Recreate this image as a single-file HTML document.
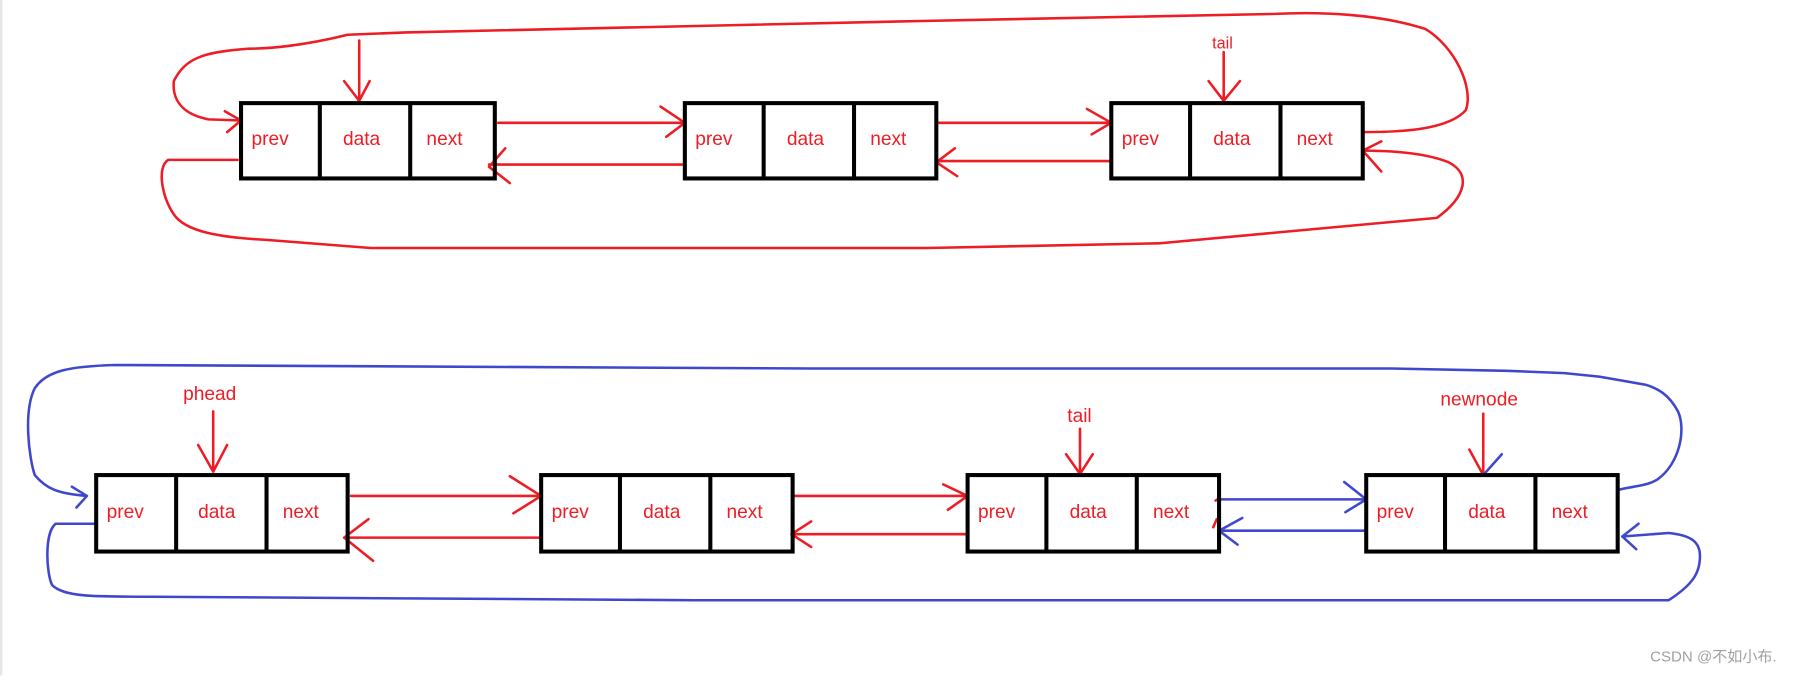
<!DOCTYPE html>
<html><head><meta charset="utf-8"><style>
html,body{margin:0;padding:0;background:#fff;width:1817px;height:676px;overflow:hidden}
svg{display:block}
text{font-family:"Liberation Sans","Noto Sans CJK SC",sans-serif}
</style></head><body>
<svg width="1817" height="676" viewBox="0 0 1568 583.4" preserveAspectRatio="none">
<rect x="0" y="0" width="2" height="583" fill="#e6e6e6"/>
<g fill="none" stroke-linecap="round" stroke-linejoin="round">
<!-- top loops red -->
<g stroke="#ee1c24" stroke-width="2.2">
<path d="M1176,114 C1210,114 1250,112 1265,95 C1272,75 1255,40 1230,25 C1190,12 1140,10 1100,12 L800,18 L350,28 L300,30 C260,40 230,42 215,42 C175,45 160,50 150,70 C148,92 165,100 180,103 L208,104"/>
<path d="M194,96 L208,104 L196,114"/>
<path d="M205,138 L145,138 C135,145 140,170 150,185 C160,200 190,205 230,207 L320,214 L800,214 L1000,210 L1240,188 C1265,170 1270,150 1250,140 C1230,132 1200,130 1176,130"/>
<path d="M1192,122 L1176,130 L1192,148"/>
<!-- connectors -->
<path d="M430,106 L591,106 M570,92 L591,106 L575,118"/>
<path d="M591,142 L422,142 M436,128 L422,144 L440,158"/>
<path d="M810,106 L959,106 M938,94 L959,106 L942,116"/>
<path d="M959,139 L808,139 M824,128 L808,140 L826,152"/>
<path d="M310,35 L310,87 M297,70 L310,87 L319,70"/>
<path d="M1056,45 L1056,87 M1043,70 L1056,87 L1070,70"/>
<!-- bottom red connectors -->
<path d="M303,428 L467,428 M440,411 L467,428 L443,443"/>
<path d="M467,464 L297,464 M318,448 L297,464 L322,484"/>
<path d="M686,428 L835,428 M814,418 L835,428 L818,440"/>
<path d="M835,461 L683,461 M700,450 L683,461 L700,472"/>
<path d="M184,355 L184,407 M171,384 L184,407 L196,384"/>
<path d="M932,370 L932,409 M920,392 L932,409 L943,392"/>
<path d="M1280,357 L1280,410 M1268,388 L1280,410"/>
<path d="M1052,430 L1049,432 M1050,448 L1047,455"/>
</g>
<!-- blue -->
<g stroke="#3f48cc" stroke-width="2.2">
<path d="M1052,431 L1179,431 M1160,416 L1179,431 L1161,442"/>
<path d="M1179,458 L1052,458 M1072,447 L1052,458 L1068,470"/>
<path d="M1280,410 L1296,392"/>
<path d="M1396,423 C1405,420 1420,420 1430,414 C1450,400 1455,370 1448,355 C1440,340 1430,335 1420,332 L1380,325 L1350,322 L1300,320 L1200,318 L1100,318 L700,318 L100,315 C60,316 40,320 30,335 C20,355 25,395 30,410 C40,422 50,426 75,428"/>
<path d="M62,420 L75,428 L66,438"/>
<path d="M83,452 L48,452 C38,460 40,495 45,505 C55,515 80,515 130,515 L600,518 L1440,518 C1460,505 1467,495 1467,480 C1467,468 1460,462 1440,460 L1400,463"/>
<path d="M1414,452 L1400,463 L1412,474"/>
</g>
</g>
<!-- boxes -->
<g fill="none" stroke="#000" stroke-width="3.5">
<rect x="208" y="89" width="219" height="65"/><path d="M276,89V154M354,89V154"/>
<rect x="591" y="89" width="217" height="65"/><path d="M659,89V154M737,89V154"/>
<rect x="959" y="89" width="217" height="65"/><path d="M1027,89V154M1105,89V154"/>
<rect x="83" y="410" width="217" height="66"/><path d="M152,410V476M230,410V476"/>
<rect x="467" y="410" width="217" height="66"/><path d="M535,410V476M613,410V476"/>
<rect x="835" y="410" width="217" height="66"/><path d="M903,410V476M981,410V476"/>
<rect x="1179" y="410" width="217" height="66"/><path d="M1247,410V476M1325,410V476"/>
</g>
<g fill="#ee1c24" font-size="16.5">
<text x="217" y="125">prev</text><text x="296" y="125">data</text><text x="368" y="125">next</text>
<text x="600" y="125">prev</text><text x="679" y="125">data</text><text x="751" y="125">next</text>
<text x="968" y="125">prev</text><text x="1047" y="125">data</text><text x="1119" y="125">next</text>
<text x="92" y="447">prev</text><text x="171" y="447">data</text><text x="244" y="447">next</text>
<text x="476" y="447">prev</text><text x="555" y="447">data</text><text x="627" y="447">next</text>
<text x="844" y="447">prev</text><text x="923" y="447">data</text><text x="995" y="447">next</text>
<text x="1188" y="447">prev</text><text x="1267" y="447">data</text><text x="1339" y="447">next</text>
<text x="1046" y="42" font-size="14">tail</text>
<text x="158" y="345">phead</text>
<text x="921" y="364">tail</text>
<text x="1243" y="350">newnode</text>
</g>
<text x="1424" y="571" fill="#a0a0a0" font-size="13">CSDN @不如小布.</text>
</svg>
</body></html>
